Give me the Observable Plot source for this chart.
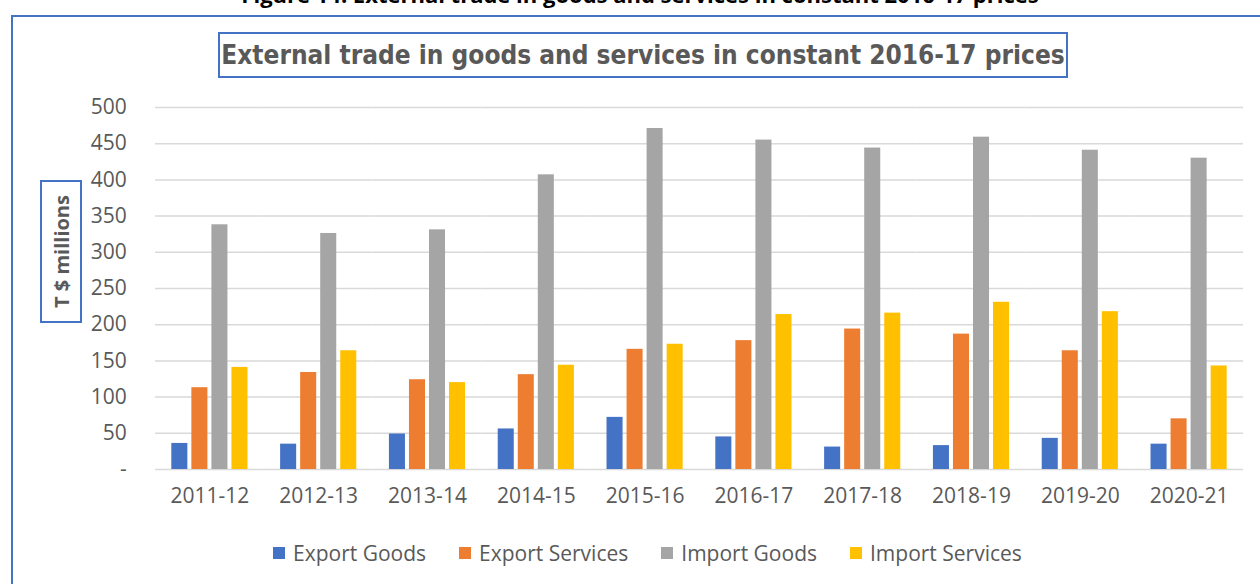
<!DOCTYPE html>
<html>
<head>
<meta charset="utf-8">
<script src="https://cdn.jsdelivr.net/npm/d3@7"></script>
<script src="https://cdn.jsdelivr.net/npm/@observablehq/plot@0.6"></script>
<style>
  html, body { margin: 0; padding: 0; background: #fff; overflow: hidden; }
  body { width: 1260px; height: 584px; position: relative; font-family: "Open Sans", sans-serif; }
  #chart { position: absolute; left: 0; top: 0; }
  .frame { position: absolute; left: 11px; top: 15px; width: 1400px; height: 800px; border: 2px solid #4472C4; box-sizing: border-box; pointer-events: none; }
  .figtitle { position: absolute; left: 0; width: 1280px; top: -17px; text-align: center; font: bold 22px/22px "Open Sans", sans-serif; color: #000; white-space: nowrap; }
  .title { position: absolute; left: 218px; top: 32px; width: 850px; height: 46px; border: 2px solid #4472C4; box-sizing: border-box; display: flex; align-items: center; justify-content: center; color: #595959; font: bold 26px "Liberation Sans Narrow", "DejaVu Sans Condensed", sans-serif; white-space: nowrap; background: #fff; }
  .ylabel { position: absolute; left: 40px; top: 180px; width: 42px; height: 143px; border: 2px solid #4472C4; box-sizing: border-box; display: flex; align-items: center; justify-content: center; background: #fff; }
  .ylabel span { transform: rotate(-90deg); white-space: nowrap; font: bold 20px "Open Sans", sans-serif; color: #595959; }
  .legend { position: absolute; left: 273px; top: 539px; display: flex; align-items: center; font: 21px "Open Sans", sans-serif; color: #595959; white-space: nowrap; }
  .legend .item { display: flex; align-items: center; margin-right: 33px; }
  .legend .sw { width: 12px; height: 12px; margin-right: 8px; }
</style>
</head>
<body>
<div id="chart"></div>
<div class="frame"></div>
<div class="figtitle">Figure 14: External trade in goods and services in constant 2016-17 prices</div>
<div class="title">External trade in goods and services in constant 2016-17 prices</div>
<div class="ylabel"><span>T $ millions</span></div>
<div class="legend" id="legend"></div>
<script>
const years = ["2011-12","2012-13","2013-14","2014-15","2015-16","2016-17","2017-18","2018-19","2019-20","2020-21"];
const seriesNames = ["Export Goods","Export Services","Import Goods","Import Services"];
const seriesColors = ["#4472C4","#ED7D31","#A5A5A5","#FFC000"];
const exportGoods    = [36, 35, 49, 56, 72, 45, 31, 33, 43, 35];
const exportServices = [113, 134, 124, 131, 166, 178, 194, 187, 164, 70];
const importGoods    = [338, 326, 331, 407, 471, 455, 444, 459, 441, 430];
const importServices = [141, 164, 120, 144, 173, 214, 216, 231, 218, 143];
const yTicks = [0, 50, 100, 150, 200, 250, 300, 350, 400, 450, 500];

const seriesValues = [exportGoods, exportServices, importGoods, importServices];
const data = [];
years.forEach((yr, i) => {
  seriesNames.forEach((s, j) => data.push({year: yr, series: s, value: seriesValues[j][i]}));
});

const plotLeft = 155, plotRight = 1243;
const step = (plotRight - plotLeft) / years.length;
const fxPadInner = 0.3;
const ext = step * fxPadInner / 2;

const chart = Plot.plot({
  width: 1260,
  height: 584,
  marginLeft: plotLeft,
  marginRight: 1260 - plotRight,
  marginTop: 107,
  marginBottom: 115,
  style: {fontSize: "21px", fontFamily: "Open Sans, sans-serif", color: "#595959", background: "transparent", overflow: "visible"},
  fx: {domain: years, paddingInner: fxPadInner, paddingOuter: fxPadInner / 2, round: false, label: null, axis: "bottom", tickSize: 0, tickPadding: 19},
  x: {domain: seriesNames, paddingInner: 0.2, paddingOuter: 0, round: false, axis: null},
  y: {domain: [0, 500], ticks: yTicks, tickFormat: d => d === 0 ? "-" : String(d), label: null, tickSize: 0, tickPadding: 45},
  color: {domain: seriesNames, range: seriesColors},
  marks: [
    Plot.ruleY(yTicks, {stroke: "#d9d9d9", strokeWidth: 1.5, insetLeft: -ext, insetRight: -ext}),
    Plot.barY(data, {fx: "year", x: "series", y: "value", fill: "series"})
  ]
});
document.getElementById("chart").appendChild(chart);

const legend = document.getElementById("legend");
seriesNames.forEach((s, j) => {
  const it = document.createElement("div");
  it.className = "item";
  const sw = document.createElement("div");
  sw.className = "sw";
  sw.style.background = seriesColors[j];
  const t = document.createElement("span");
  t.textContent = s;
  it.appendChild(sw); it.appendChild(t);
  legend.appendChild(it);
});
</script>
</body>
</html>
